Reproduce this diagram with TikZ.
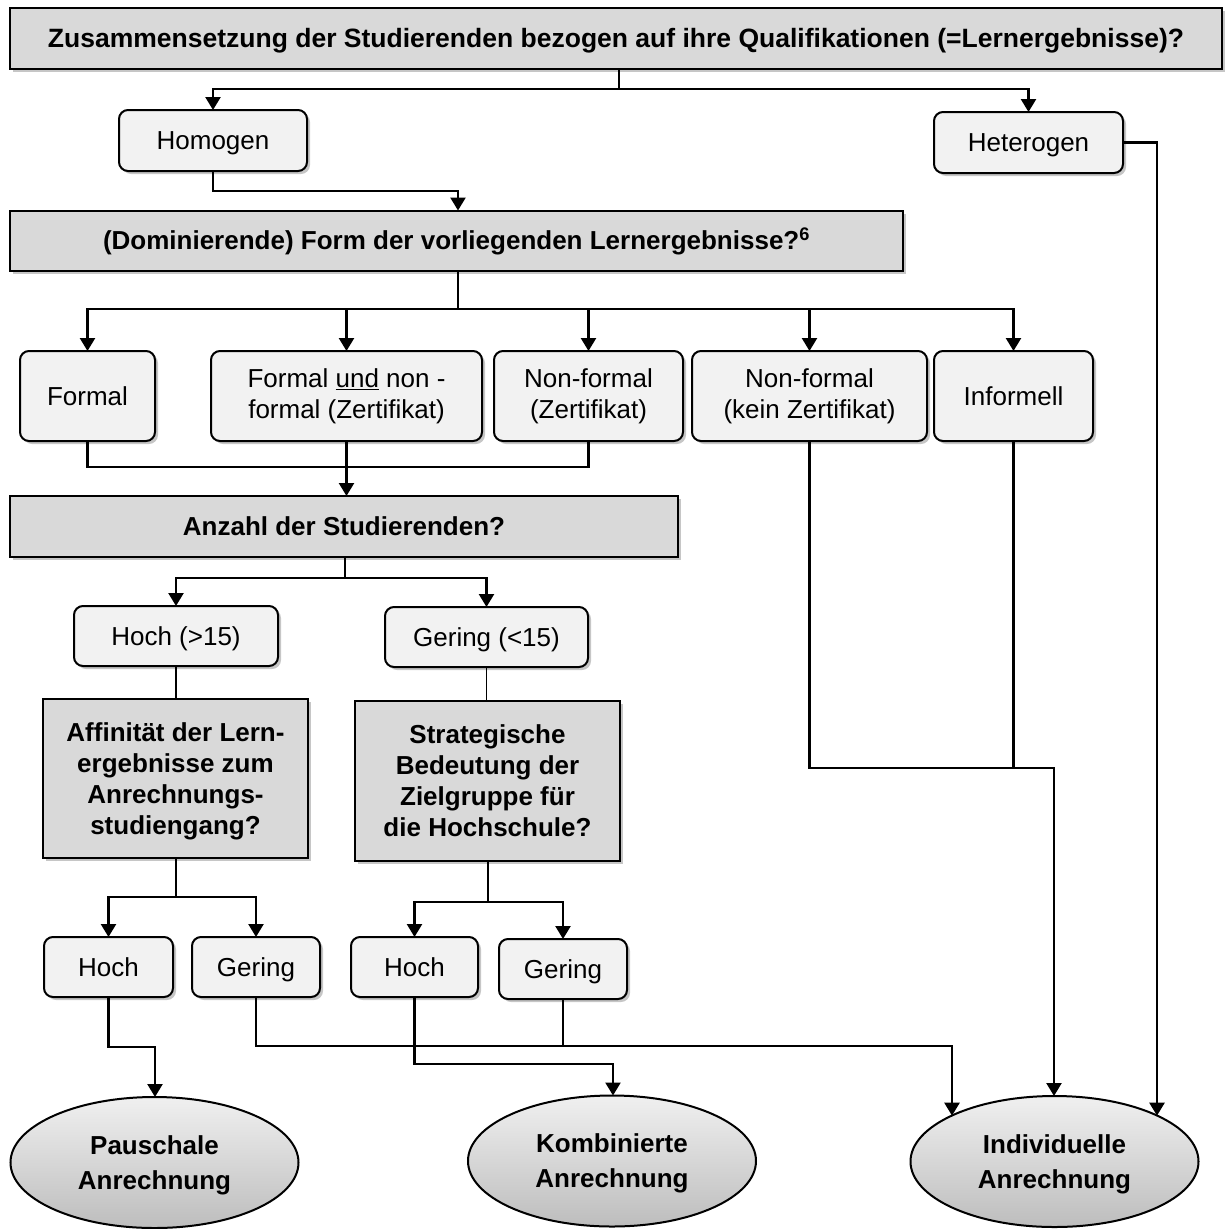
\documentclass[tikz,border=0pt]{standalone}
\usepackage{fontspec}
\setmainfont{Liberation Sans}
\usetikzlibrary{shapes.geometric,shadows,arrows.meta}
\definecolor{qgray}{HTML}{D9D9D9}
\definecolor{lgray}{HTML}{F2F2F2}
\definecolor{etop}{HTML}{F0F0F0}
\definecolor{ebot}{HTML}{BDBDBD}
\begin{document}
\begin{tikzpicture}[x=1pt,y=-1pt,
  txt/.style={font=\fontsize{26}{31}\selectfont},
  shad/.style={drop shadow={shadow xshift=3pt,shadow yshift=-3pt,opacity=0.45}},
  sl/.style={text height=18.6pt,text depth=0pt},
  qbox/.style={draw,line width=2pt,fill=qgray,shad,inner sep=0pt,outer sep=0pt,txt,font=\fontsize{26}{31}\selectfont\bfseries,align=center,text depth=0pt},
  abox/.style={draw,line width=2pt,fill=lgray,rounded corners=9pt,shad,inner sep=0pt,outer sep=0pt,txt,align=center},
  res/.style={ellipse,draw,line width=2pt,top color=etop,bottom color=ebot,inner sep=0pt,outer sep=0pt,minimum width=288,minimum height=131,font=\fontsize{26}{35}\selectfont\bfseries,align=center,text depth=0pt},
  con/.style={line width=2.4pt},
  thinc/.style={line width=1.6pt},
  arr/.style={con,-{Triangle[length=13pt,width=15pt]}}
]
\useasboundingbox (0,0) rectangle (1225,1229);

% question boxes
\node[qbox,sl,minimum width=1212,minimum height=61,font=\fontsize{26.5}{31}\selectfont\bfseries] (q1) at (616,38.5) {Zusammensetzung der Studierenden bezogen auf ihre Qualifikationen (=Lernergebnisse)?};
\node[abox,sl,minimum width=188,minimum height=61] (homo) at (213,140.5) {Homogen};
\node[abox,sl,minimum width=189,minimum height=61] (het) at (1028.5,142.5) {Heterogen};
\node[qbox,sl,minimum width=893,minimum height=60] (q2) at (456.5,240.5) {(Dominierende) Form der vorliegenden Lernergebnisse?\textsuperscript{6}};

\node[abox,sl,minimum width=135,minimum height=90] (formal) at (87.5,396) {Formal};
\node[abox,minimum width=271,minimum height=90] (fun) at (346.5,396) {Formal \underline{und} non -\\formal (Zertifikat)};
\node[abox,minimum width=189,minimum height=90] (nfz) at (588.5,396) {Non-formal\\(Zertifikat)};
\node[abox,minimum width=235,minimum height=90] (nfk) at (809.5,396) {Non-formal\\(kein Zertifikat)};
\node[abox,sl,minimum width=159,minimum height=90] (inf) at (1013.5,396) {Informell};

\node[qbox,sl,minimum width=668,minimum height=61] (q3) at (344,526.5) {Anzahl der Studierenden?};
\node[abox,sl,minimum width=204,minimum height=60] (h15) at (176,636) {Hoch (>15)};
\node[abox,sl,minimum width=203,minimum height=60] (g15) at (486.5,637) {Gering (<15)};

\node[qbox,minimum width=265,minimum height=159] (aff) at (175.5,778.5) {Affinität der Lern-\\ergebnisse zum\\Anrechnungs-\\studiengang?};
\node[qbox,minimum width=265,minimum height=160] (strat) at (487.5,781) {Strategische\\Bedeutung der\\Zielgruppe für\\die Hochschule?};

\node[abox,sl,minimum width=129,minimum height=60] (ha) at (108.5,967) {Hoch};
\node[abox,sl,minimum width=128,minimum height=60] (ga) at (256,967) {Gering};
\node[abox,sl,minimum width=127,minimum height=60] (hb) at (414.5,967) {Hoch};
\node[abox,sl,minimum width=128,minimum height=60] (gb) at (563,969) {Gering};

\node[res] (pau) at (154.5,1162.5) {Pauschale\\Anrechnung};
\node[res] (kom) at (612,1161) {Kombinierte\\Anrechnung};
\node[res] (ind) at (1054.5,1161.5) {Individuelle\\Anrechnung};

% connectors
\coordinate (t1) at (619,89);
\draw[con] (q1.south -| t1) -- (t1);
\draw[arr] (t1) -| (homo.north);
\draw[arr] (t1) -| (het.north);

\coordinate (t2) at (458,191);
\draw[arr] (homo.south) |- (t2) -- (t2 |- q2.north);

\coordinate (t3) at (1157,142.5);
\draw[arr] (het.east) -- (t3) -- (t3 |- ind.24);

\coordinate (t4) at (458,309);
\draw[con] (q2.south -| t4) -- (t4);
\draw[arr] (t4) -| (formal.north);
\draw[arr] (t4) -| (fun.north);
\draw[arr] (t4) -| (nfz.north);
\draw[arr] (t4) -| (nfk.north);
\draw[arr] (t4) -| (inf.north);

\coordinate (t5) at (346.5,467);
\draw[con] (formal.south) |- (t5);
\draw[con] (nfz.south) |- (t5);
\draw[arr] (fun.south) -- (fun.south |- q3.north);

\coordinate (t6) at (345,578);
\draw[con] (q3.south -| t6) -- (t6);
\draw[arr] (t6) -| (h15.north);
\draw[arr] (t6) -| (g15.north);

\draw[thinc] (h15.south) -- (h15.south |- aff.north);
\draw[thinc] (g15.south) -- (g15.south |- strat.north);

\coordinate (t7) at (176,897);
\draw[con] (aff.south -| t7) -- (t7);
\draw[arr] (t7) -| (ha.north);
\draw[arr] (t7) -| (ga.north);

\coordinate (t8) at (488,902);
\draw[con] (strat.south -| t8) -- (t8);
\draw[arr] (t8) -| (hb.north);
\draw[arr] (t8) -| (gb.north);

\coordinate (t9) at (155,1047);
\draw[arr] (ha.south) |- (t9) -- (t9 |- pau.north);

\coordinate (t10) at (952,1046);
\draw[arr] (ga.south) |- (t10) -- (t10 |- ind.156);
\draw[con] (gb.south) -- (gb.south |- t10);

\coordinate (t11) at (613,1064);
\draw[arr] (hb.south) |- (t11) -- (t11 |- kom.north);

\coordinate (t12) at (1054,768);
\draw[arr] (nfk.south) |- (t12) -- (t12 |- ind.north);
\draw[con] (inf.south) -- (inf.south |- t12);
\end{tikzpicture}
\end{document}
